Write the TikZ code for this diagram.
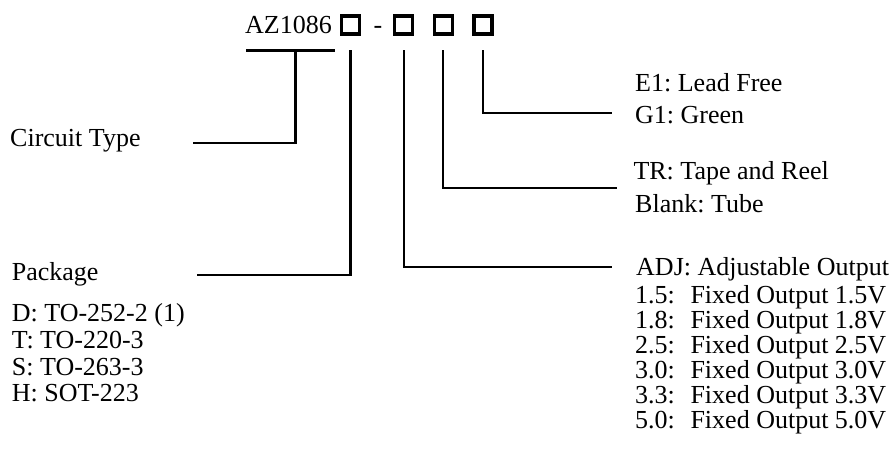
\documentclass[tikz,border=0pt]{standalone}
\usepackage{fontspec}
\setmainfont{Liberation Serif}
\usetikzlibrary{positioning}

\begin{document}
\begin{tikzpicture}[x=1pt,y=-1pt,
                    label node/.style={anchor=base west,inner sep=0pt,font=\fontsize{26}{26}\selectfont\frenchspacing},
                    code box/.style={draw,line width=3.2pt,minimum size=18pt,inner sep=0pt},
                    lead/.style={line width=2.2pt}]

  \useasboundingbox (0,0) rectangle (896,475);

  % part number
  \node[label node] (az) at (245,33.3) {AZ1086};
  \node[code box] (b1) at (350.5,25) {};
  \node[label node] (dash) at (373.5,33.3) {-};
  \node[code box] (b2) at (403.7,25) {};
  \node[code box] (b3) at (443.2,25) {};
  \node[code box] (b4) at (483,25) {};

  % left side
  \node[label node] (ct) at (10,146.7) {Circuit Type};
  \node[label node] (pkg) at (11.7,280) {Package};
  \node[label node] (p1) at (11.7,321.7) {D: TO-252-2 (1)};
  \node[label node] (p2) at (11.7,348.3) {T: TO-220-3};
  \node[label node] (p3) at (11.7,375) {S: TO-263-3};
  \node[label node] (p4) at (11.7,401.7) {H: SOT-223};

  % right side
  \node[label node] (lf1) at (635,91.7) {E1: Lead Free};
  \node[label node] (lf2) at (635,123.3) {G1: Green};
  \node[label node] (tr1) at (633.3,179.3) {TR: Tape and Reel};
  \node[label node] (tr2) at (635,212.7) {Blank: Tube};
  \node[label node] (adj) at (636,275) {ADJ: Adjustable Output};
  \foreach \v [count=\i from 0] in {1.5,1.8,2.5,3.0,3.3,5.0}
    \node[label node] (v\i) at (635,{303.3+25.1*\i}) {\v:\hspace{0.35em} Fixed Output \v V};

  % leads
  \coordinate (bar west) at (246,50.5);
  \coordinate (bar east) at (335,50.5);
  \coordinate (ct bar) at (295.5,50.5);
  \coordinate (ct end) at (193,143);
  \coordinate (pkg end) at (197,275);
  \coordinate (adj end) at (612,267);
  \coordinate (tr end) at (617,188);
  \coordinate (lf end) at (612,113);

  \draw[lead] (bar west) -- (bar east);
  \draw[lead] (ct bar) |- (ct end);
  \draw[lead] ([yshift=-14.5pt]b1.south) |- (pkg end);
  \draw[lead] ([yshift=-14.5pt]b2.south) |- (adj end);
  \draw[lead] ([yshift=-14.5pt]b3.south) |- (tr end);
  \draw[lead] ([yshift=-14.5pt]b4.south) |- (lf end);

\end{tikzpicture}
\end{document}
